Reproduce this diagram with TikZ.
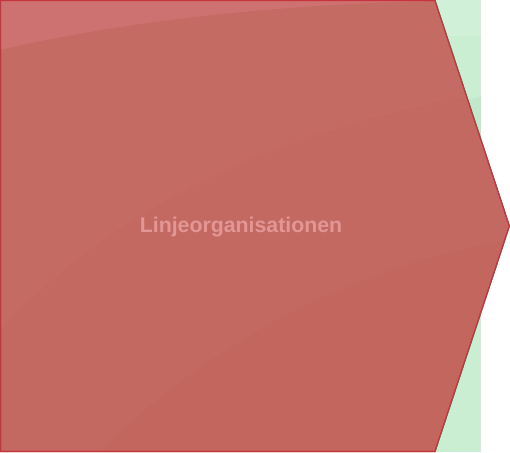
\documentclass[tikz,border=0pt]{standalone}
\usepackage{fontspec}
\setmainfont{Liberation Sans}
\definecolor{redfill}{RGB}{194,102,94}
\definecolor{redlight}{RGB}{206,112,112}
\definecolor{redborder}{RGB}{200,52,62}
\definecolor{greenfill}{RGB}{202,238,210}
\definecolor{greenlight}{RGB}{208,240,216}
\definecolor{greendark}{RGB}{190,228,200}
\definecolor{textpink}{RGB}{226,150,150}
\tikzset{
  chevron/.style={fill=redfill, draw=redborder, line width=1.2pt, line join=miter},
  label text/.style={font=\fontsize{21.3}{24}\selectfont\bfseries, text=textpink, inner sep=0pt}
}
\begin{document}
\begin{tikzpicture}[x=1pt,y=-1pt]
\useasboundingbox (0,0) rectangle (510,452);
\fill[white] (0,0) rectangle (510,452);
% green back panel
\fill[greenfill] (435,0) rectangle (481,452);
\fill[greenlight] (435,0) rectangle (481,36);
\fill[greendark, opacity=0.6] (435,110) -- (481,96) -- (481,300) -- (435,300) -- cycle;
% chevron
\path[chevron] (0.6,0.6) -- (435,0.6) -- (509.4,226) -- (435,451.4) -- (0.6,451.4) -- cycle;
% gloss
\begin{scope}
\clip (0.6,0.6) -- (435,0.6) -- (509.4,226) -- (435,451.4) -- (0.6,451.4) -- cycle;
\fill[redlight, opacity=0.8] (0,0) -- (0,50) .. controls (150,15) and (330,0) .. (510,0) -- cycle;
\fill[white, opacity=0.02] (0,330) .. controls (120,200) and (300,120) .. (510,90) -- (510,0) -- (0,0) -- cycle;
\fill[white, opacity=0.02] (100,452) .. controls (220,330) and (380,260) .. (510,240) -- (510,0) -- (0,0) -- (0,452) -- cycle;
\end{scope}
\path[draw=redborder, line width=1.2pt, line join=miter] (0.6,0.6) -- (435,0.6) -- (509.4,226) -- (435,451.4) -- (0.6,451.4) -- cycle;
\node[label text] (lbl) at (241,227.5) {Linjeorganisationen};
\end{tikzpicture}
\end{document}
